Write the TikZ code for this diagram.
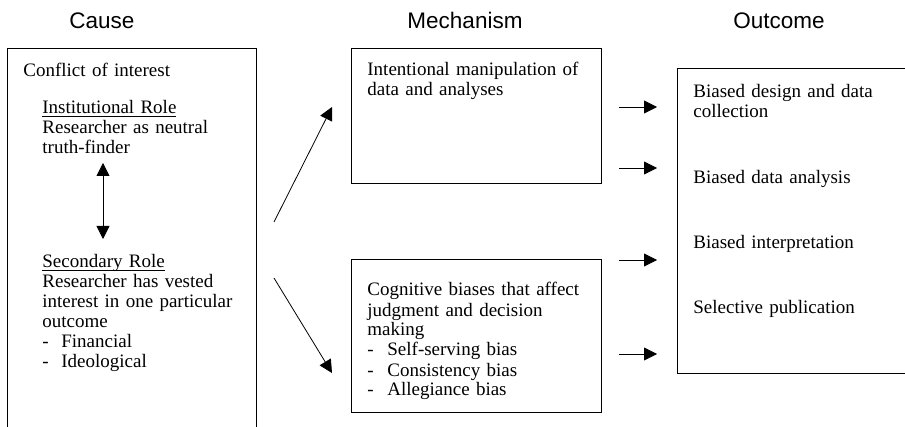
\documentclass[tikz,border=0pt]{standalone}
\usepackage{fontspec}
\setmainfont{Liberation Serif}
\setsansfont{Liberation Sans}
\usetikzlibrary{
  arrows.meta,
  fit,          % Boxes drawn round two corners
}
\newcommand{\dashitem}[2][9.5pt]{\makebox[#1][l]{-}#2}
\newcommand{\roleline}[1]{\setbox0\hbox{#1}\rlap{\rule[-1.5pt]{\wd0}{0.45pt}}#1}
\tikzset{
  line width=0.65pt,
  >={Triangle[length=6.5pt,width=6.5pt]},
  my box/.style={
    draw,
    inner sep=0pt,
    rectangle
  },
  my text/.style={
    anchor=base west,
    inner sep=0pt,
    align=left,
    text width=#1,
    font=\fontsize{9.5}{10}\selectfont
  },
  my title/.style={
    anchor=base,
    inner sep=0pt,
    font=\sffamily\fontsize{11.25}{13}\selectfont
  }
}

\begin{document}
\begin{tikzpicture}[x=0.5pt,y=-0.5pt]
\useasboundingbox (0,0) rectangle (905,427);
\clip (0,0) rectangle (905,427);
% column titles
\node[my title] (tcause) at (102,29) {Cause};
\node[my title] (tmech)  at (465,29) {Mechanism};
\node[my title] (tout)   at (779,29) {Outcome};
% boxes
\node[my box,fit={(7,48) (256,440)}]  (cause) {};
\node[my box,fit={(351,48) (601,183)}] (mtop)  {};
\node[my box,fit={(351,259) (601,412)}](mbot)  {};
\node[my box,fit={(677,68) (910,373)}] (out)   {};
% cause
\node[my text=115pt] (coi)  at (23,77)  {Conflict of interest};
\node[my text=100pt] (inst) at (42,114) {\roleline{Institutional Role}\\
  Researcher as neutral\\truth-finder};
\node[my text=100pt] (sec)  at (42,268) {\roleline{Secondary Role}\\
  Researcher has vested\\interest in one particular\\outcome\\
  \dashitem{Financial}\\\dashitem{Ideological}};
% mechanism
\node[my text=120pt] (manip) at (367,76)  {Intentional manipulation of\\data and analyses};
\node[my text=120pt] (cogn)  at (367,296) {Cognitive biases that affect\\
  judgment and decision\\making\\
  \dashitem[10pt]{Self-serving bias}\\\dashitem[10pt]{Consistency bias}\\
  \dashitem[10pt]{Allegiance bias}};
% outcome
\node[my text=110pt] (o1) at (693,98)  {Biased design and data\\collection};
\node[my text=110pt] (o2) at (693,184) {Biased data analysis};
\node[my text=110pt] (o3) at (693,249) {Biased interpretation};
\node[my text=110pt] (o4) at (693,314) {Selective publication};
% arrows
\coordinate (r1) at (103,163);
\coordinate (r2) at (103,239);
\coordinate (c1) at (274,222);
\coordinate (c2) at (332,107);
\coordinate (c3) at (274,278);
\coordinate (c4) at (332,373);
\draw[<->] (r1) -- (r2);
\draw[->] (c1) -- (c2);
\draw[->] (c3) -- (c4);
\foreach \y [count=\i] in {107,168,260,354} {
  \coordinate (a\i) at (619,\y);
  \coordinate (b\i) at (657,\y);
  \draw[->] (a\i) -- (b\i);
}
\end{tikzpicture}
\end{document}
